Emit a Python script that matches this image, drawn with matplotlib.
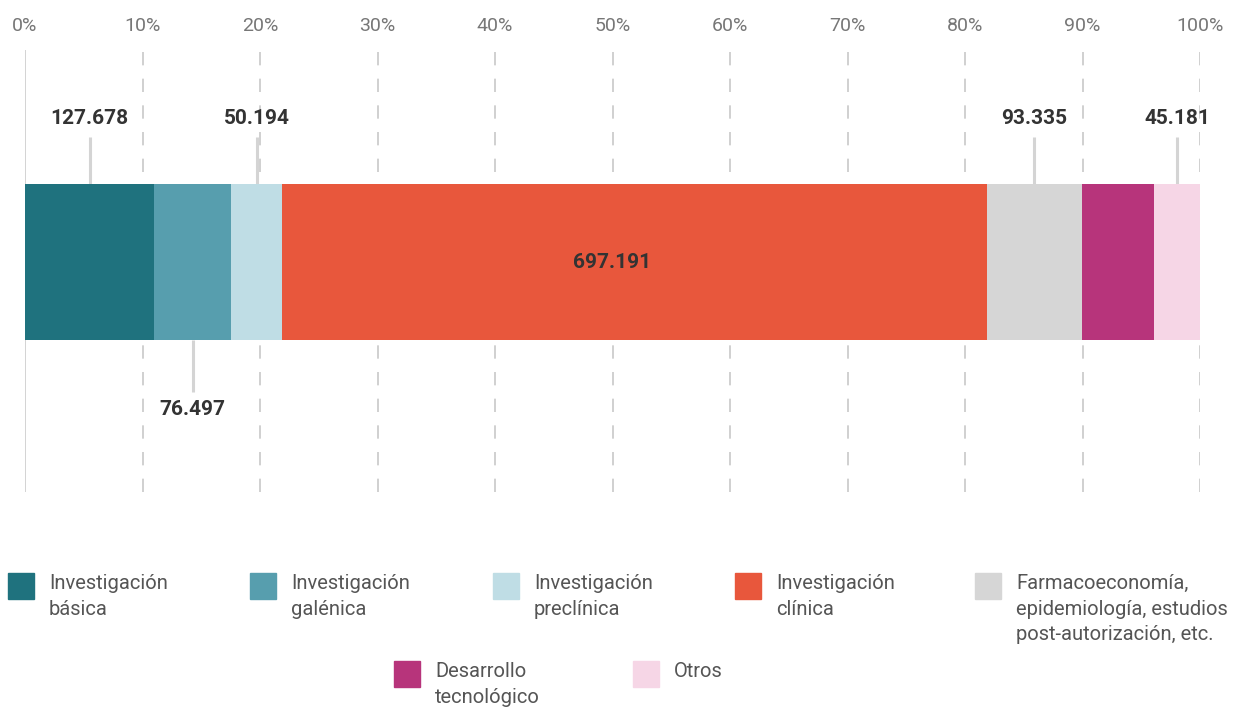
import matplotlib.pyplot as plt
from matplotlib.patches import Rectangle
import numpy as np

plt.rcParams['font.family'] = ['Roboto', 'DejaVu Sans']

categories = ["Investigación\nbásica", "Investigación\ngalénica", "Investigación\npreclínica",
              "Investigación\nclínica", "Farmacoeconomía,\nepidemiología, estudios\npost-autorización, etc.",
              "Desarrollo\ntecnológico", "Otros"]
values = [127.678, 76.497, 50.194, 697.191, 93.335, 72.0, 45.181]
labels = ["127.678", "76.497", "50.194", "697.191", "93.335", None, "45.181"]
label_side = ["up", "down", "up", "in", "up", None, "up"]
colors = ["#1f727e", "#579eae", "#bfdde5", "#e8573c", "#d6d6d6", "#b7347b", "#f6d6e6"]
ticks = list(range(0, 101, 10))

total = sum(values)
pct = np.array(values) / total * 100
lefts = np.concatenate([[0], np.cumsum(pct)[:-1]])

fig = plt.figure(figsize=(12.35, 7.07), dpi=100)
ax = fig.add_axes([25 / 1235, 1 - 492 / 707, 1175 / 1235, 442 / 707])
ax.set_xlim(0, 100)
ax.set_ylim(0, 1)

for t in ticks:
    if t == 0:
        ax.axvline(t, color="#cccccc", lw=1.2, zorder=0)
    else:
        ax.axvline(t, color="#c8c8c8", lw=1.2, ls=(0, (8, 8)), zorder=0)

bar_y, bar_h = 0.52, 0.353
ax.barh(bar_y, pct, left=lefts, height=bar_h, color=colors, zorder=2)

top = bar_y + bar_h / 2
bot = bar_y - bar_h / 2
for l, p, lab, side in zip(lefts, pct, labels, label_side):
    cx = l + p / 2
    if lab is None:
        continue
    if side == "up":
        ax.plot([cx, cx], [top, top + 0.107], color="#d4d4d4", lw=2.2, zorder=1, solid_capstyle="butt")
        ax.text(cx, top + 0.127, lab, ha="center", va="bottom", fontsize=15, fontweight="bold", color="#333333")
    elif side == "down":
        ax.plot([cx, cx], [bot, bot - 0.118], color="#d4d4d4", lw=2.2, zorder=1, solid_capstyle="butt")
        ax.text(cx, bot - 0.135, lab, ha="center", va="top", fontsize=15, fontweight="bold", color="#333333")
    else:
        ax.text(50, bar_y, lab, ha="center", va="center", fontsize=15, fontweight="bold", color="#333333", zorder=3)

ax.set_xticks(ticks)
ax.set_xticklabels([f"{t}%" for t in ticks])
ax.xaxis.tick_top()
ax.tick_params(axis="x", length=0, pad=11, labelsize=14, labelcolor="#777777")
ax.set_yticks([])
for s in ax.spines.values():
    s.set_visible(False)

# legend, drawn by hand
leg_x = [8, 250, 493, 735, 975, 394, 633]
leg_y = [573, 573, 573, 573, 573, 661, 661]
for name, c, x, y in zip(categories, colors, leg_x, leg_y):
    fig.patches.append(Rectangle((x / 1235, 1 - (y + 26) / 707), 26 / 1235, 26 / 707,
                                 transform=fig.transFigure, color=c))
    fig.text((x + 41) / 1235, 1 - (y + 1) / 707, name, ha="left", va="top",
             fontsize=14.5, fontweight="normal", color="#555555", linespacing=1.45)

fig.savefig("out.png", dpi=100)
